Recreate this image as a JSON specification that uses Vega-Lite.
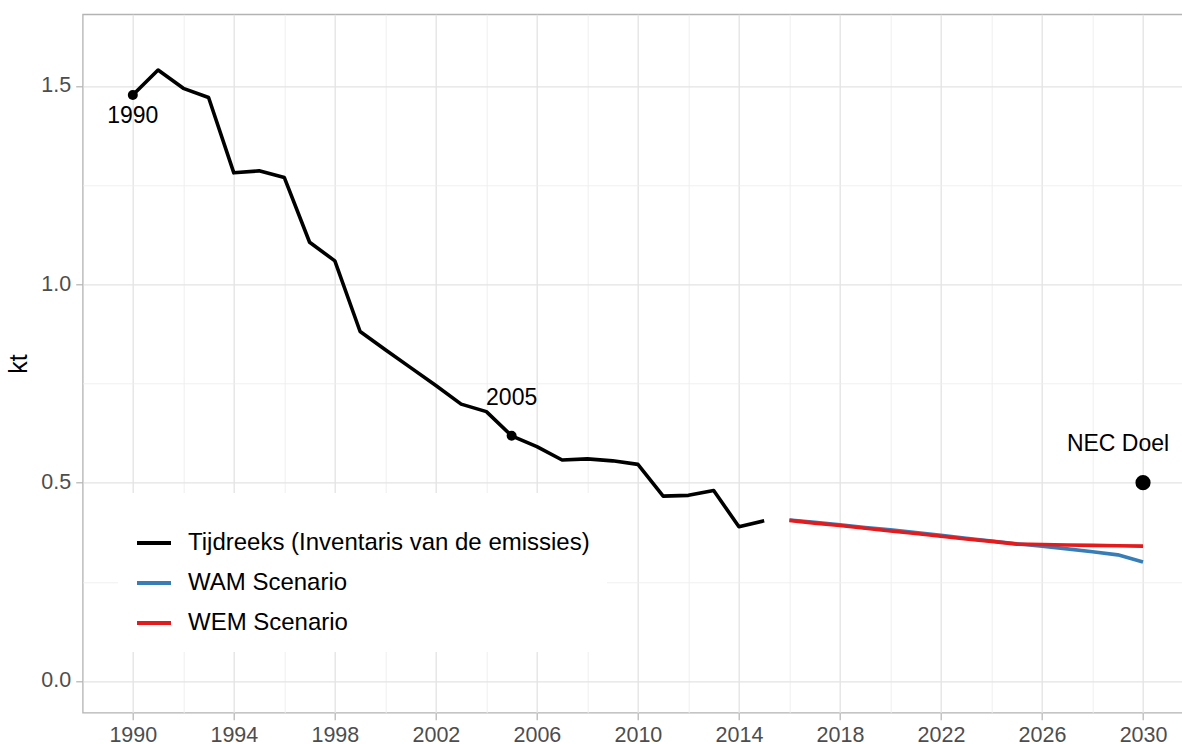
{
  "$schema": "https://vega.github.io/schema/vega-lite/v6.json",
  "autosize": {"type": "none"},
  "padding": {"left": 82.7, "top": 14.3, "right": 0, "bottom": 31.3},
  "width": 1102,
  "height": 698.4,
  "background": "white",
  "config": {
    "font": "Liberation Sans",
    "view": {"stroke": "#b3b3b3", "strokeWidth": 1.3}
  },
  "datasets": {
    "series": [
      {"year": 1990, "kt": 1.477, "series": "Tijdreeks (Inventaris van de emissies)"},
      {"year": 1991, "kt": 1.540, "series": "Tijdreeks (Inventaris van de emissies)"},
      {"year": 1992, "kt": 1.494, "series": "Tijdreeks (Inventaris van de emissies)"},
      {"year": 1993, "kt": 1.471, "series": "Tijdreeks (Inventaris van de emissies)"},
      {"year": 1994, "kt": 1.281, "series": "Tijdreeks (Inventaris van de emissies)"},
      {"year": 1995, "kt": 1.286, "series": "Tijdreeks (Inventaris van de emissies)"},
      {"year": 1996, "kt": 1.269, "series": "Tijdreeks (Inventaris van de emissies)"},
      {"year": 1997, "kt": 1.106, "series": "Tijdreeks (Inventaris van de emissies)"},
      {"year": 1998, "kt": 1.059, "series": "Tijdreeks (Inventaris van de emissies)"},
      {"year": 1999, "kt": 0.881, "series": "Tijdreeks (Inventaris van de emissies)"},
      {"year": 2000, "kt": 0.835, "series": "Tijdreeks (Inventaris van de emissies)"},
      {"year": 2001, "kt": 0.790, "series": "Tijdreeks (Inventaris van de emissies)"},
      {"year": 2002, "kt": 0.745, "series": "Tijdreeks (Inventaris van de emissies)"},
      {"year": 2003, "kt": 0.698, "series": "Tijdreeks (Inventaris van de emissies)"},
      {"year": 2004, "kt": 0.679, "series": "Tijdreeks (Inventaris van de emissies)"},
      {"year": 2005, "kt": 0.618, "series": "Tijdreeks (Inventaris van de emissies)"},
      {"year": 2006, "kt": 0.591, "series": "Tijdreeks (Inventaris van de emissies)"},
      {"year": 2007, "kt": 0.557, "series": "Tijdreeks (Inventaris van de emissies)"},
      {"year": 2008, "kt": 0.560, "series": "Tijdreeks (Inventaris van de emissies)"},
      {"year": 2009, "kt": 0.555, "series": "Tijdreeks (Inventaris van de emissies)"},
      {"year": 2010, "kt": 0.546, "series": "Tijdreeks (Inventaris van de emissies)"},
      {"year": 2011, "kt": 0.466, "series": "Tijdreeks (Inventaris van de emissies)"},
      {"year": 2012, "kt": 0.468, "series": "Tijdreeks (Inventaris van de emissies)"},
      {"year": 2013, "kt": 0.480, "series": "Tijdreeks (Inventaris van de emissies)"},
      {"year": 2014, "kt": 0.389, "series": "Tijdreeks (Inventaris van de emissies)"},
      {"year": 2015, "kt": 0.404, "series": "Tijdreeks (Inventaris van de emissies)"},
      {"year": 2016, "kt": 0.406, "series": "WAM Scenario"},
      {"year": 2017, "kt": 0.400, "series": "WAM Scenario"},
      {"year": 2018, "kt": 0.394, "series": "WAM Scenario"},
      {"year": 2019, "kt": 0.387, "series": "WAM Scenario"},
      {"year": 2020, "kt": 0.381, "series": "WAM Scenario"},
      {"year": 2021, "kt": 0.374, "series": "WAM Scenario"},
      {"year": 2022, "kt": 0.367, "series": "WAM Scenario"},
      {"year": 2023, "kt": 0.360, "series": "WAM Scenario"},
      {"year": 2024, "kt": 0.353, "series": "WAM Scenario"},
      {"year": 2025, "kt": 0.346, "series": "WAM Scenario"},
      {"year": 2026, "kt": 0.340, "series": "WAM Scenario"},
      {"year": 2027, "kt": 0.333, "series": "WAM Scenario"},
      {"year": 2028, "kt": 0.326, "series": "WAM Scenario"},
      {"year": 2029, "kt": 0.318, "series": "WAM Scenario"},
      {"year": 2030, "kt": 0.300, "series": "WAM Scenario"},
      {"year": 2016, "kt": 0.405, "series": "WEM Scenario"},
      {"year": 2017, "kt": 0.398, "series": "WEM Scenario"},
      {"year": 2018, "kt": 0.392, "series": "WEM Scenario"},
      {"year": 2019, "kt": 0.385, "series": "WEM Scenario"},
      {"year": 2020, "kt": 0.378, "series": "WEM Scenario"},
      {"year": 2021, "kt": 0.372, "series": "WEM Scenario"},
      {"year": 2022, "kt": 0.365, "series": "WEM Scenario"},
      {"year": 2023, "kt": 0.358, "series": "WEM Scenario"},
      {"year": 2024, "kt": 0.352, "series": "WEM Scenario"},
      {"year": 2025, "kt": 0.345, "series": "WEM Scenario"},
      {"year": 2026, "kt": 0.344, "series": "WEM Scenario"},
      {"year": 2027, "kt": 0.343, "series": "WEM Scenario"},
      {"year": 2028, "kt": 0.342, "series": "WEM Scenario"},
      {"year": 2029, "kt": 0.341, "series": "WEM Scenario"},
      {"year": 2030, "kt": 0.340, "series": "WEM Scenario"}
    ],
    "marks": [
      {"year": 1990, "kt": 1.477, "label": "1990"},
      {"year": 2005, "kt": 0.618, "label": "2005"}
    ],
    "target": [
      {"year": 2030, "kt": 0.5, "label": "NEC Doel"}
    ]
  },
  "encoding": {
    "x": {
      "field": "year", "type": "quantitative",
      "scale": {"domain": [1988.016, 2031.65], "nice": false, "zero": false},
      "axis": {
        "title": null,
        "domain": false,
        "values": [1990, 1992, 1994, 1996, 1998, 2000, 2002, 2004, 2006, 2008, 2010, 2012, 2014, 2016, 2018, 2020, 2022, 2024, 2026, 2028, 2030],
        "labelExpr": "(datum.value - 1990) % 4 == 0 ? format(datum.value, 'd') : ''",
        "labelFontSize": 21.5,
        "labelColor": "#4d4d4d",
        "labelPadding": 5,
        "labelFlush": false,
        "labelOverlap": false,
        "tickSize": 7,
        "tickWidth": 1.2,
        "tickColor": "#b3b3b3",
        "tickOpacity": {"condition": {"test": "(datum.value - 1990) % 4 == 0", "value": 1}, "value": 0},
        "gridColor": {"condition": {"test": "(datum.value - 1990) % 4 == 0", "value": "#e3e3e3"}, "value": "#eeeeee"},
        "gridWidth": {"condition": {"test": "(datum.value - 1990) % 4 == 0", "value": 1.3}, "value": 0.9}
      }
    },
    "y": {
      "field": "kt", "type": "quantitative",
      "scale": {"domain": [-0.0799, 1.6806], "nice": false, "zero": false},
      "axis": {
        "title": "kt",
        "titleFontSize": 25,
        "titleFontWeight": "normal",
        "titleColor": "black",
        "titlePadding": 9,
        "domain": false,
        "values": [0, 0.25, 0.5, 0.75, 1, 1.25, 1.5],
        "labelExpr": "datum.value * 2 == floor(datum.value * 2) ? format(datum.value, '.1f') : ''",
        "labelFontSize": 21.5,
        "labelColor": "#4d4d4d",
        "labelPadding": 5,
        "labelFlush": false,
        "labelOverlap": false,
        "tickSize": 7,
        "tickWidth": 1.2,
        "tickColor": "#b3b3b3",
        "tickOpacity": {"condition": {"test": "datum.value * 2 == floor(datum.value * 2)", "value": 1}, "value": 0},
        "gridColor": {"condition": {"test": "datum.value * 2 == floor(datum.value * 2)", "value": "#e3e3e3"}, "value": "#eeeeee"},
        "gridWidth": {"condition": {"test": "datum.value * 2 == floor(datum.value * 2)", "value": 1.3}, "value": 0.9}
      }
    }
  },
  "layer": [
    {
      "data": {"name": "series"},
      "transform": [{"filter": "datum.series == 'Tijdreeks (Inventaris van de emissies)'"}],
      "mark": {"type": "line", "strokeWidth": 3.6, "strokeJoin": "round"},
      "encoding": {
        "color": {
          "field": "series", "type": "nominal",
          "scale": {"domain": ["Tijdreeks (Inventaris van de emissies)", "WAM Scenario", "WEM Scenario"], "range": ["#000000", "#377eb8", "#e41a1c"]},
          "legend": {"orient": "none", "legendX": 35.3, "legendY": 478.7, "title": " ", "titleFontSize": 10, "titlePadding": 4, "fillColor": "white", "padding": 17, "labelFontSize": 24, "labelColor": "black", "labelLimit": 0, "symbolType": "stroke", "symbolSize": 1156, "symbolStrokeWidth": 4, "labelOffset": 15, "rowPadding": 9}
        }
      }
    },
    {
      "data": {"name": "series"},
      "transform": [{"filter": "datum.series == 'WAM Scenario'"}],
      "mark": {"type": "line", "strokeWidth": 3.6, "strokeJoin": "round"},
      "encoding": {"color": {"field": "series", "type": "nominal"}}
    },
    {
      "data": {"name": "series"},
      "transform": [{"filter": "datum.series == 'WEM Scenario'"}],
      "mark": {"type": "line", "strokeWidth": 3.6, "strokeJoin": "round"},
      "encoding": {"color": {"field": "series", "type": "nominal"}}
    },
    {
      "data": {"name": "marks"},
      "mark": {"type": "point", "filled": true, "color": "black", "opacity": 1, "size": 100}
    },
    {
      "data": {"name": "marks"},
      "transform": [{"filter": "datum.label == '1990'"}],
      "mark": {"type": "text", "fontSize": 23, "color": "black", "dy": 21, "baseline": "middle", "align": "center"},
      "encoding": {"text": {"field": "label"}}
    },
    {
      "data": {"name": "marks"},
      "transform": [{"filter": "datum.label == '2005'"}],
      "mark": {"type": "text", "fontSize": 23, "color": "black", "dy": -38, "baseline": "middle", "align": "center"},
      "encoding": {"text": {"field": "label"}}
    },
    {
      "data": {"name": "target"},
      "mark": {"type": "point", "filled": true, "color": "black", "opacity": 1, "size": 230}
    },
    {
      "data": {"name": "target"},
      "mark": {"type": "text", "fontSize": 23, "color": "black", "dx": -25, "dy": -39, "baseline": "middle", "align": "center"},
      "encoding": {"text": {"field": "label"}}
    }
  ]
}
